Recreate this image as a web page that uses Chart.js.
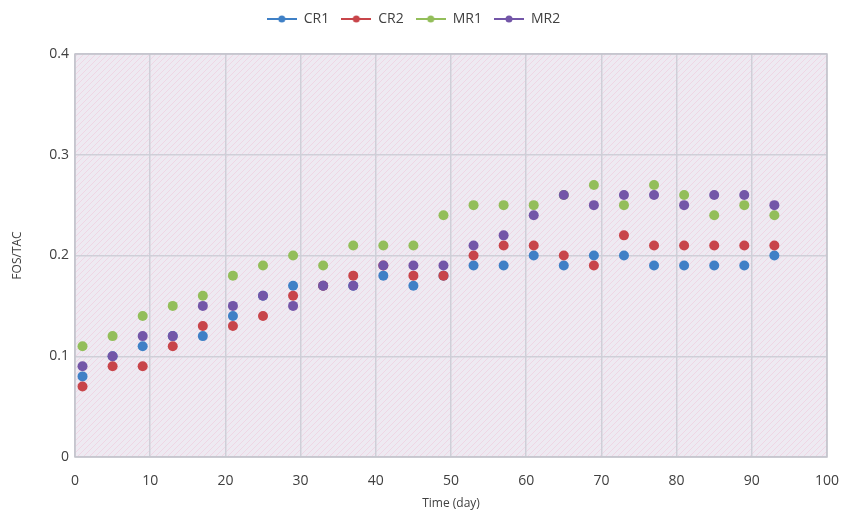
<!DOCTYPE html>
<html>
<head>
<meta charset="utf-8">
<script src="https://cdn.jsdelivr.net/npm/chart.js@4"></script>
<style>
  html, body { margin: 0; padding: 0; background: #fff; }
  #wrap { width: 846px; height: 515px; }
</style>
</head>
<body>
<div id="wrap"><canvas id="chart"></canvas></div>
<script>
// Sampling days (x) and FOS/TAC values per reactor
const days = [1, 5, 9, 13, 17, 21, 25, 29, 33, 37, 41, 45, 49, 53, 57, 61, 65, 69, 73, 77, 81, 85, 89, 93];
const cr1 = [0.08, 0.10, 0.11, 0.12, 0.12, 0.14, 0.16, 0.17, 0.17, 0.17, 0.18, 0.17, 0.18, 0.19, 0.19, 0.20, 0.19, 0.20, 0.20, 0.19, 0.19, 0.19, 0.19, 0.20];
const cr2 = [0.07, 0.09, 0.09, 0.11, 0.13, 0.13, 0.14, 0.16, 0.17, 0.18, 0.19, 0.18, 0.18, 0.20, 0.21, 0.21, 0.20, 0.19, 0.22, 0.21, 0.21, 0.21, 0.21, 0.21];
const mr1 = [0.11, 0.12, 0.14, 0.15, 0.16, 0.18, 0.19, 0.20, 0.19, 0.21, 0.21, 0.21, 0.24, 0.25, 0.25, 0.25, 0.26, 0.27, 0.25, 0.27, 0.26, 0.24, 0.25, 0.24];
const mr2 = [0.09, 0.10, 0.12, 0.12, 0.15, 0.15, 0.16, 0.15, 0.17, 0.17, 0.19, 0.19, 0.19, 0.21, 0.22, 0.24, 0.26, 0.25, 0.26, 0.26, 0.25, 0.26, 0.26, 0.25];

const seriesNames = ['CR1', 'CR2', 'MR1', 'MR2'];
const seriesColors = ['#3F80C6', '#C8454A', '#93BE5A', '#7356A8'];

function toPoints(values) {
  return values.map((v, i) => ({ x: days[i], y: v }));
}

// Legend marker: short line with a dot in the middle
function legendMarker(color) {
  const c = document.createElement('canvas');
  c.width = 30;
  c.height = 10;
  const g = c.getContext('2d');
  g.strokeStyle = color;
  g.lineWidth = 2;
  g.beginPath();
  g.moveTo(0, 5);
  g.lineTo(30, 5);
  g.stroke();
  g.fillStyle = color;
  g.beginPath();
  g.arc(15, 5, 3.5, 0, Math.PI * 2);
  g.fill();
  return c;
}

// Hatched lavender/pink fill for the plot area
function makePattern(ctx) {
  const p = document.createElement('canvas');
  p.width = 6;
  p.height = 6;
  const g = p.getContext('2d');
  g.fillStyle = '#EEEAF2';
  g.fillRect(0, 0, 6, 6);
  g.strokeStyle = 'rgba(238, 212, 226, 0.9)';
  g.lineWidth = 1;
  g.beginPath();
  g.moveTo(0, 6);
  g.lineTo(6, 0);
  g.stroke();
  return ctx.createPattern(p, 'repeat');
}

const plotArea = {
  id: 'plotArea',
  beforeDraw(chart) {
    const { ctx, chartArea: a } = chart;
    ctx.save();
    ctx.fillStyle = makePattern(ctx);
    ctx.fillRect(a.left, a.top, a.width, a.height);
    ctx.restore();
  },
  afterDatasetsDraw(chart) {
    const { ctx, chartArea: a } = chart;
    ctx.save();
    ctx.strokeStyle = '#C4C4CC';
    ctx.lineWidth = 1.5;
    ctx.strokeRect(a.left, a.top, a.width, a.height);
    ctx.restore();
  }
};

// Extra room under the legend
const legendGap = {
  id: 'legendGap',
  beforeInit(chart) {
    const fit = chart.legend.fit;
    chart.legend.fit = function () {
      fit.bind(chart.legend)();
      this.height += 18;
    };
  }
};

// later series are drawn on top, as in the original
const datasets = [cr1, cr2, mr1, mr2].map((vals, i) => ({
  label: seriesNames[i],
  data: toPoints(vals),
  backgroundColor: seriesColors[i],
  borderColor: seriesColors[i],
  pointRadius: 5,
  pointBorderWidth: 0,
  showLine: false,
  order: 3 - i
}));

const tickFont = { family: 'Open Sans', size: 14 };

new Chart(document.getElementById('chart'), {
  type: 'scatter',
  data: { datasets: datasets },
  options: {
    responsive: true,
    maintainAspectRatio: false,
    animation: false,
    layout: { padding: { top: 0, right: 19, left: 0, bottom: 0 } },
    plugins: {
      tooltip: { enabled: false },
      legend: {
        position: 'top',
        labels: {
          color: '#404040',
          font: { family: 'Open Sans', size: 14 },
          usePointStyle: true,
          pointStyleWidth: 30,
          padding: 12,
          generateLabels(chart) {
            return seriesNames.map((name, i) => ({
              text: name,
              fontColor: '#404040',
              pointStyle: legendMarker(seriesColors[i]),
              datasetIndex: i,
              hidden: false,
              lineWidth: 0
            }));
          }
        }
      }
    },
    scales: {
      x: {
        type: 'linear',
        min: 0,
        max: 100,
        ticks: { stepSize: 10, color: '#404040', font: tickFont, padding: 16 },
        grid: { color: '#CFCFD8', lineWidth: 1.5, drawTicks: false },
        border: { display: false },
        title: { display: true, text: 'Time (day)', color: '#404040', font: { family: 'Open Sans', size: 12 }, padding: { top: 2 } },
        afterFit(scale) {
          scale.height = 58;
          scale.paddingLeft = 0;
          scale.paddingRight = 0;
        }
      },
      y: {
        min: 0,
        max: 0.4,
        ticks: {
          stepSize: 0.1,
          color: '#404040',
          font: tickFont,
          padding: 6,
          callback: v => (v === 0 ? '0' : v.toFixed(1))
        },
        grid: { color: '#CFCFD8', lineWidth: 1.5, drawTicks: false },
        border: { display: false },
        title: { display: true, text: 'FOS/TAC', color: '#404040', font: { family: 'Open Sans', size: 12 }, padding: { top: 10, bottom: 0 } },
        afterFit(scale) { scale.width = 75; }
      }
    }
  },
  plugins: [plotArea, legendGap]
});
</script>
</body>
</html>
